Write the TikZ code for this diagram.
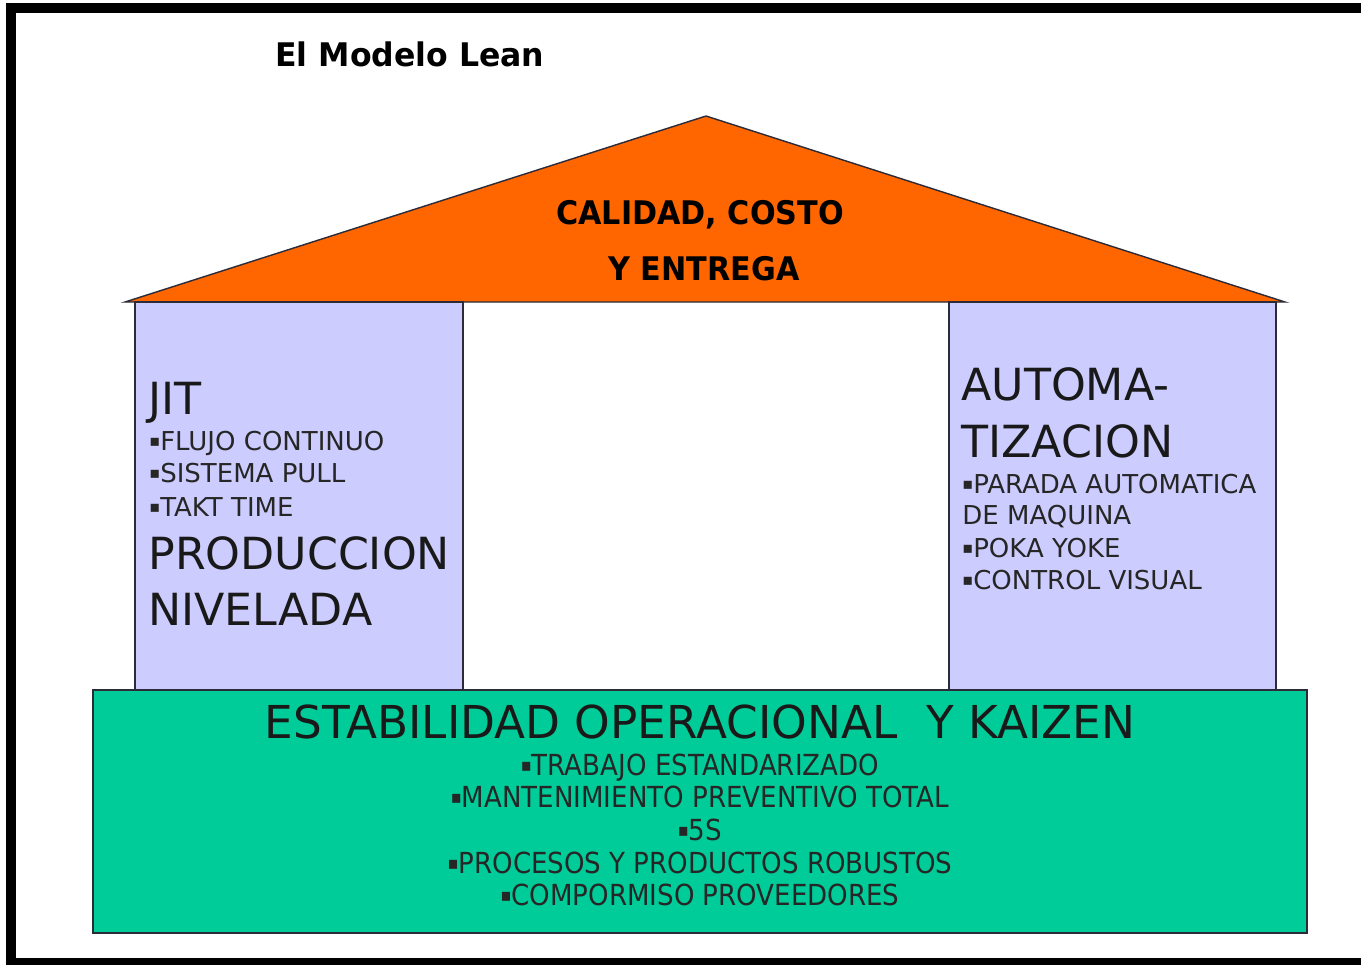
\documentclass[tikz,border=0pt]{standalone}
\usepackage{fontspec}
\setmainfont{DejaVu Sans}
\newfontfamily\titlefont[FakeStretch=0.97]{DejaVu Sans Bold}
\newfontfamily\headfont[FakeStretch=0.93]{DejaVu Sans Bold}
\newfontfamily\footfont[FakeStretch=0.9]{DejaVu Sans}
\newcommand{\bul}{\raisebox{0.22ex}{\scalebox{0.62}{▪}}}
\definecolor{rooforange}{HTML}{FF6600}
\definecolor{pillarblue}{HTML}{CCCCFF}
\definecolor{basegreen}{HTML}{00CC99}
\definecolor{edgegray}{HTML}{2B2B3A}
\tikzset{
  frame/.style = {line width=5.6pt, black, line join=miter},
  houseshape/.style = {draw=edgegray, line width=0.8pt},
  head/.style = {font=\headfont\fontsize{18.5}{22}\selectfont, inner sep=0pt},
  bigtxt/.style = {font=\fontsize{25.2}{30}\selectfont, anchor=base west, inner sep=0pt, text=black!90},
  item/.style = {font=\fontsize{14.8}{17}\selectfont, anchor=base west, inner sep=0pt, text=black!85},
  footitem/.style = {font=\footfont\fontsize{16.5}{19}\selectfont, anchor=base, inner sep=0pt, text=black!85}
}
\begin{document}
\begin{tikzpicture}[x=0.02cm, y=-0.02cm]
  \useasboundingbox (0,0) rectangle (1361,964);
  \fill[white] (0,0) rectangle (1361,964);
  % frame
  \draw[frame] (1420,8) -- (11,8) -- (11,963) -- (1420,963);
  % roof, pillars and base
  \filldraw[houseshape, fill=rooforange] (125,302) -- (706,116) -- (1285,302) -- cycle;
  \filldraw[houseshape, fill=pillarblue] (135,302) rectangle (463,690);
  \filldraw[houseshape, fill=pillarblue] (949,302) rectangle (1276,690);
  \filldraw[houseshape, fill=basegreen] (93,690) rectangle (1307,933);
  % title
  \node[head, font=\titlefont\fontsize{18.5}{22}\selectfont, anchor=base west] (title) at (275,66) {El Modelo Lean};
  \node[head, anchor=base] (roof1) at (700,224) {CALIDAD, COSTO};
  \node[head, anchor=base] (roof2) at (704,280) {Y ENTREGA};
  % left pillar
  \node[bigtxt] (jit) at (148,414) {JIT};
  \node[item] (jit1) at (149,450) {\bul FLUJO CONTINUO};
  \node[item] (jit2) at (149,482) {\bul SISTEMA PULL};
  \node[item] (jit3) at (149,516) {\bul TAKT TIME};
  \node[bigtxt] (prod1) at (148,569) {PRODUCCION};
  \node[bigtxt] (prod2) at (148,625) {NIVELADA};
  % right pillar
  \node[bigtxt] (auto1) at (961,400) {AUTOMA-};
  \node[bigtxt] (auto2) at (961,457) {TIZACION};
  \node[item] (auto3) at (962,493) {\bul PARADA AUTOMATICA};
  \node[item] (auto4) at (962,524) {DE MAQUINA};
  \node[item] (auto5) at (962,557) {\bul POKA YOKE};
  \node[item] (auto6) at (962,589) {\bul CONTROL VISUAL};
  % base
  \node[bigtxt, font=\fontsize{25.8}{30}\selectfont, anchor=base] (kaizen) at (700,738) {ESTABILIDAD OPERACIONAL\ \ Y KAIZEN};
  \node[footitem] (base1) at (700,775) {\bul TRABAJO ESTANDARIZADO};
  \node[footitem] (base2) at (700,807) {\bul MANTENIMIENTO PREVENTIVO TOTAL};
  \node[footitem] (base3) at (700,840) {\bul 5S};
  \node[footitem] (base4) at (700,873) {\bul PROCESOS Y PRODUCTOS ROBUSTOS};
  \node[footitem] (base5) at (700,905) {\bul COMPORMISO PROVEEDORES};
\end{tikzpicture}
\end{document}
